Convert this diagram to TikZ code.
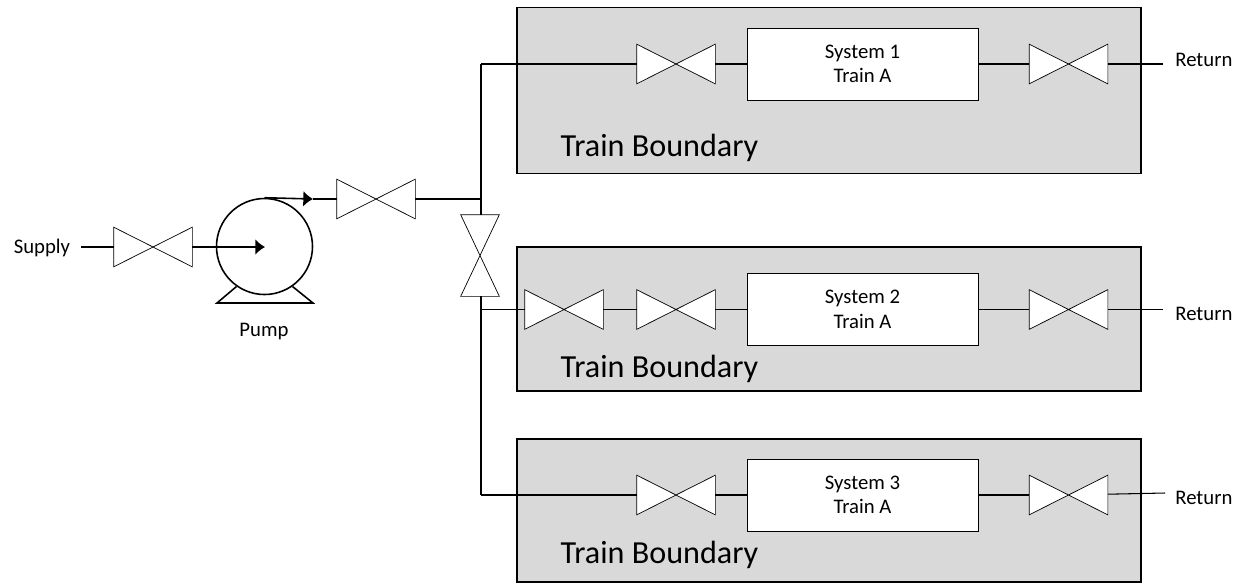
\documentclass[tikz,border=0pt]{standalone}
\usepackage{fontspec}
\setmainfont{Carlito}
\usetikzlibrary{arrows.meta}
\tikzset{
    boundary/.style={draw,line width=0.9pt,fill=black!15,minimum width=624*0.02cm,inner sep=0pt},
    sysbox/.style={draw,fill=white,minimum width=231*0.02cm,minimum height=72*0.02cm,align=center,inner sep=0pt,font=\fontsize{11.8}{14}\selectfont},
    valve/.style={minimum width=78*0.02cm,minimum height=39*0.02cm,inner sep=0pt,
        append after command={\pgfextra{\let\vn\tikzlastnode
            \draw[fill=white] (\vn.north west) -- (\vn.south east) -- (\vn.north east) -- (\vn.south west) -- cycle;}}},
    vvalve/.style={minimum width=38*0.02cm,minimum height=81*0.02cm,inner sep=0pt,
        append after command={\pgfextra{\let\vn\tikzlastnode
            \draw[fill=white] (\vn.north west) -- (\vn.north east) -- (\vn.south west) -- (\vn.south east) -- cycle;}}},
    lbl/.style={font=\fontsize{11.8}{14}\selectfont,inner sep=0pt},
    biglbl/.style={font=\fontsize{18.3}{20}\selectfont,inner sep=0pt},
    pipe/.style={line width=0.6pt},
    flow/.style={line width=0.9pt,-{Latex[length=5.5pt,width=9pt]}}
}
\begin{document}
\begin{tikzpicture}[x=0.02cm,y=-0.02cm]
    \useasboundingbox (0,0) rectangle (1237,583);

    % Train boundaries
    \node[boundary,minimum height=166*0.02cm] (bound1) at (829,90.5) {};
    \node[boundary,minimum height=144*0.02cm] (bound2) at (829,319) {};
    \node[boundary,minimum height=143*0.02cm] (bound3) at (829,510.5) {};
    \node[biglbl] (txt1) at (659.5,148) {Train Boundary};
    \node[biglbl] (txt2) at (659.5,369) {Train Boundary};
    \node[biglbl] (txt3) at (659.5,555) {Train Boundary};

    % Supply side
    \node[lbl] (supply) at (42,248) {Supply};
    \coordinate (sIn) at (81,247);
    \node[valve] (vSup) at (153,247) {};
    \node[circle,draw,line width=0.9pt,minimum size=96*0.02cm,inner sep=0pt] (pump) at (264.5,246.5) {};
    \coordinate (pIn) at (265,247);
    \coordinate (pOut) at (313,199);
    \coordinate (pBaseL) at (217,303);
    \coordinate (pBaseR) at (313,303);
    \node[lbl] (pumpTxt) at (264,332) {Pump};
    \draw[line width=0.9pt] (pump.-125) -- (pBaseL) -- (pBaseR) -- (pump.-55);
    \draw[line width=0.9pt] (sIn) -- (vSup);
    \draw[flow] (vSup) -- (pIn);
    \draw[flow] (pump.north) -- (pOut);

    % Header
    \node[valve] (vOut) at (376,199) {};
    \node[vvalve] (vCross) at (480,255.5) {};
    \coordinate (hdr) at (481,199);
    \coordinate (hTop) at (481,64);
    \coordinate (hMid) at (481,309.5);
    \coordinate (hBot) at (481,495);
    \draw[pipe] (pOut) -- (vOut);
    \draw[pipe] (vOut) -- (hdr);
    \draw[pipe] (hTop) -- (hdr) -- (vCross.north -| hdr);
    \draw[pipe] (vCross.south -| hdr) -- (hBot);

    % Row 1
    \node[valve] (v1a) at (676,64) {};
    \node[sysbox] (sys1) at (862.5,64) {System 1\\Train A};
    \node[valve] (v1b) at (1068.5,64) {};
    \node[lbl,anchor=west] (ret1) at (1175,60) {Return};
    \coordinate (r1) at (1163,64);
    \draw[pipe] (hTop) -- (v1a);
    \draw[pipe] (v1a) -- (sys1);
    \draw[pipe] (sys1) -- (v1b);
    \draw[pipe] (v1b) -- (r1);

    % Row 2
    \node[valve] (v2c) at (564,309.5) {};
    \node[valve] (v2a) at (676,309.5) {};
    \node[sysbox] (sys2) at (862.5,309.5) {System 2\\Train A};
    \node[valve] (v2b) at (1068.5,309.5) {};
    \node[lbl,anchor=west] (ret2) at (1175,314) {Return};
    \coordinate (r2) at (1163,309.5);
    \draw[pipe] (hMid) -- (v2c);
    \draw[pipe] (v2c) -- (v2a);
    \draw[pipe] (v2a) -- (sys2);
    \draw[pipe] (sys2) -- (v2b);
    \draw[pipe] (v2b) -- (r2);

    % Row 3
    \node[valve] (v3a) at (676,495) {};
    \node[sysbox] (sys3) at (862.5,495) {System 3\\Train A};
    \node[valve] (v3b) at (1068.5,495) {};
    \node[lbl,anchor=west] (ret3) at (1175,498) {Return};
    \coordinate (r3) at (1165,493);
    \draw[pipe] (hBot) -- (v3a);
    \draw[pipe] (v3a) -- (sys3);
    \draw[pipe] (sys3) -- (v3b);
    \draw[pipe] (v3b) -- (r3);
\end{tikzpicture}
\end{document}
